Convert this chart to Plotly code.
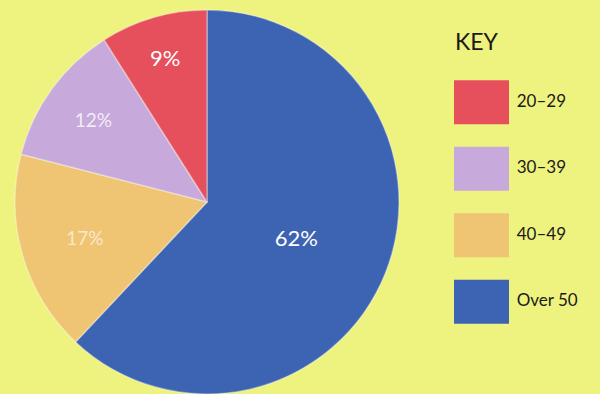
import plotly.graph_objects as go

# Data
age_groups = ["20–29", "30–39", "40–49", "Over 50"]
shares = [9, 12, 17, 62]
colors = ["#E5505C", "#C7AADB", "#EFC472", "#3D64B2"]
label_sizes = [22, 19, 19, 22]
label_colors = ["white", "rgba(255,255,255,0.8)", "rgba(255,255,255,0.65)", "white"]
bg = "#EEF27E"

fig = go.Figure()

# Pie drawn clockwise from 12 o'clock in reverse order, so that 20–29 sits just
# left of the top and slices run counter-clockwise as in the original.
fig.add_trace(go.Pie(
    labels=age_groups[::-1],
    values=shares[::-1],
    sort=False,
    direction="clockwise",
    rotation=0,
    marker=dict(colors=colors[::-1], line=dict(color="rgba(255,255,255,0.35)", width=1.5)),
    texttemplate="%{value}%",
    textposition="inside",
    insidetextorientation="horizontal",
    textfont=dict(family="Lato", size=label_sizes[::-1], color=label_colors[::-1]),
    hoverinfo="label+percent",
    showlegend=False,
    domain=dict(x=[15/600, 399/600], y=[0, 384/394]),
))

# Key swatches (bars end at x=1, which sits at pixel 509)
span = (600 - 454) / 55.0
fig.add_trace(go.Bar(
    y=age_groups,
    x=[1]*len(age_groups),
    orientation="h",
    marker=dict(color=colors, line=dict(width=0)),
    width=0.66,
    showlegend=False,
    hoverinfo="skip",
    xaxis="x", yaxis="y",
))
fig.add_trace(go.Scatter(
    y=age_groups,
    x=[1.14]*len(age_groups),
    mode="text",
    text=age_groups,
    textposition="middle right",
    textfont=dict(family="Lato", size=17, color="#1a1a1a"),
    cliponaxis=False,
    showlegend=False,
    hoverinfo="skip",
    xaxis="x", yaxis="y",
))

fig.update_layout(
    width=600, height=394,
    margin=dict(l=0, r=0, t=0, b=0),
    paper_bgcolor=bg, plot_bgcolor=bg,
    xaxis=dict(domain=[454/600, 1], range=[0, span], visible=False, fixedrange=True),
    yaxis=dict(domain=[1-335/394, 1-69/394], categoryorder="array", categoryarray=age_groups,
               autorange="reversed", visible=False, fixedrange=True),
    annotations=[dict(text="KEY", xref="paper", yref="paper", x=453/600, y=1-41/394,
                      xanchor="left", yanchor="middle", showarrow=False,
                      font=dict(family="Lato", size=23, color="#1a1a1a"))],
)

fig.write_html("out.html")
